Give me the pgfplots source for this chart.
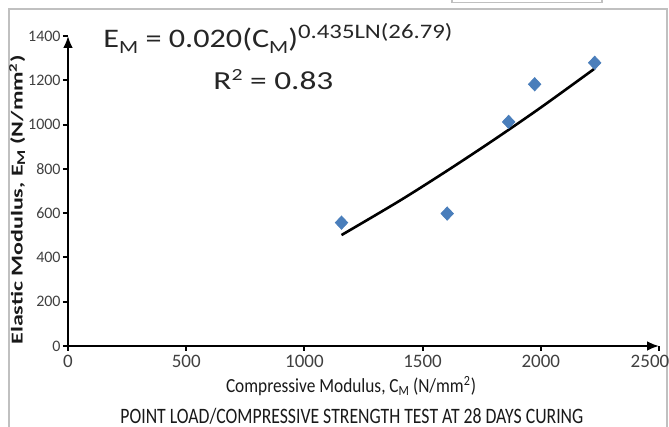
\documentclass[border=0pt]{standalone}
\usepackage{pgfplots}
\pgfplotsset{compat=1.18}
\usepackage{fontspec}
\setmainfont{Carlito}
\usetikzlibrary{arrows.meta}
\definecolor{ptblue}{RGB}{74,126,187}
\definecolor{framegray}{RGB}{192,192,192}
\newcommand{\msub}[1]{\raisebox{-3pt}{\fontsize{9.3}{10}\selectfont #1}}
\newcommand{\msup}[1]{\raisebox{4.6pt}{\fontsize{10.3}{11}\selectfont #1}}
\begin{document}
\begin{tikzpicture}
\useasboundingbox (0,0) rectangle (334.5pt,213.5pt);
% frame of the chart area
\draw[framegray, line width=1pt] (4.5pt,-2pt) -- (4.5pt,209pt) -- (333.5pt,209pt) -- (333.5pt,-2pt);
\draw[framegray, line width=0.6pt] (226pt,214pt) -- (226pt,212.2pt) -- (301pt,212.2pt) -- (301pt,214pt);

\begin{axis}[
  at={(34pt,40.5pt)}, anchor=south west,
  scale only axis, width=295.5pt, height=155pt,
  xmin=0, xmax=2500, ymin=0, ymax=1400,
  enlargelimits=false,
  axis lines=left,
  axis line style={line width=1.2pt, -{Latex[length=6pt,width=5pt]}},
  xtick={0,500,...,2500}, ytick={0,200,...,1400},
  xticklabels={0,500,1000,1500,2000,\hspace*{-9pt}2500},
  tick align=outside, major tick length=2.5pt,
  tick style={line width=1pt, black},
  /pgf/number format/assume math mode=true,
  /pgf/number format/set thousands separator={},
  xticklabel style={font=\fontsize{9.5}{11}\selectfont, text=black!75, inner sep=2pt},
  yticklabel style={font=\fontsize{8}{10}\selectfont, text=black!75, inner sep=1pt},
  clip=false]
\addplot[only marks, mark=diamond*, mark size=3.3pt,
  mark options={xscale=1.25, fill=ptblue, draw=ptblue}]
  coordinates {(1157,557) (1604,598) (1864,1012) (1974,1182) (2228,1279)};
\addplot[black, line width=1.3pt, smooth, no marks]
  coordinates {(1157,501) (1400,654) (1600,789) (1800,930) (2000,1077) (2228,1253)};
\end{axis}

% equation and R squared
\node[anchor=base west, inner sep=0, text=black!85] at (51.5pt,189.85pt)
  {\resizebox{174.5pt}{\height}{\fontsize{13.4}{16}\selectfont E\msub{M} = 0.020(C\msub{M})\msup{0.435LN(26.79)}}};
\node[anchor=base west, inner sep=0, text=black!85] at (106.5pt,168.5pt)
  {\resizebox{60pt}{\height}{\fontsize{13}{16}\selectfont R\raisebox{4.6pt}{\fontsize{8.5}{10}\selectfont 2} = 0.83}};

% axis titles and caption
\node[rotate=90, anchor=base west, inner sep=0, text=black!90] at (11.3pt,41pt)
  {\resizebox{145pt}{\height}{\bfseries\fontsize{8.3}{10}\selectfont Elastic Modulus, E\raisebox{-1.2pt}{\fontsize{6}{7}\selectfont M} (N/mm\textsuperscript{2})}};
\node[anchor=base, inner sep=0, text=black!90] at (175.5pt,17pt)
  {\resizebox{125pt}{\height}{\fontsize{10}{12}\selectfont Compressive Modulus, C\raisebox{-1.4pt}{\fontsize{7}{8}\selectfont M} (N/mm\textsuperscript{2})}};
\node[anchor=base west, inner sep=0, text=black!90] at (60pt,1.8pt)
  {\resizebox{231.5pt}{\height}{\fontsize{11}{12}\selectfont POINT LOAD/COMPRESSIVE STRENGTH TEST AT 28 DAYS CURING}};
\end{tikzpicture}
\end{document}
